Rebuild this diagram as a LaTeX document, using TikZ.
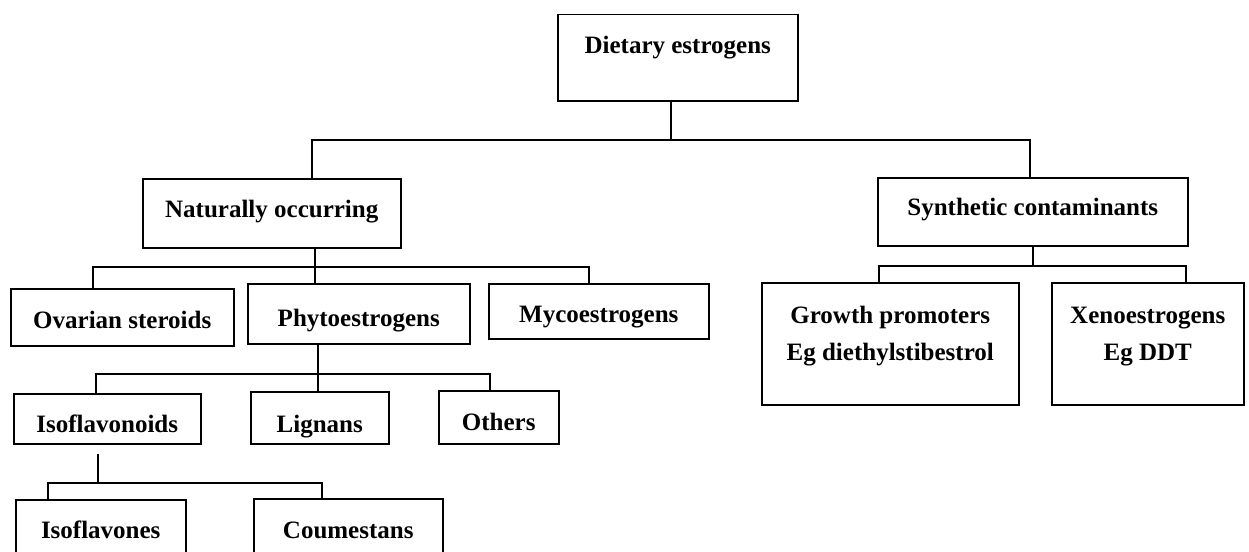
\documentclass[tikz,border=0pt]{standalone}
\usepackage{fontspec}
\setmainfont{Liberation Serif}
\usetikzlibrary{calc}

\begin{document}
\begin{tikzpicture}[x=1pt, y=-1pt, line width=1.5pt,
  box/.style n args={4}{draw, anchor=north west, inner sep=0pt, align=center,
    font=\fontsize{25}{30}\selectfont\bfseries,
    minimum width=#1, minimum height=#2, text height=#3, text depth=#4}]

\path[use as bounding box, clip] (0,0) rectangle (1249,551);

% top
\node[box={240pt}{86pt}{17pt}{25pt}] (diet) at (557,14) {Dietary estrogens};
\node[box={258pt}{69pt}{17pt}{8pt}] (nat) at (142,178) {Naturally occurring};
\node[box={310pt}{68pt}{17pt}{9pt}] (syn) at (877,177) {Synthetic contaminants};
\coordinate (c1) at (671,140);
\draw (diet.south -| c1) -- (c1);
\draw (nat.north -| 312,0) |- (c1) -| (syn.north -| 1030,0);

% naturally occurring
\node[box={223pt}{57pt}{23pt}{0pt}] (ova) at (10,288) {Ovarian steroids};
\node[box={222pt}{60pt}{26pt}{0pt}] (phy) at (247,283) {Phytoestrogens};
\node[box={220pt}{55pt}{23pt}{0pt}] (myc) at (488,283) {Mycoestrogens};
\coordinate (c2) at (315,267);
\draw (nat.south -| c2) -- (phy.north -| c2);
\draw (ova.north -| 93,0) |- (c2) -| (myc.north -| 589,0);

% phytoestrogens
\node[box={187pt}{50pt}{28pt}{0pt}] (iso) at (13,393) {Isoflavonoids};
\node[box={138pt}{52pt}{30pt}{0pt}] (lig) at (250,391) {Lignans};
\node[box={120pt}{53pt}{27pt}{0pt}] (oth) at (438,390) {Others};
\coordinate (c3) at (318,374);
\draw (phy.south -| c3) -- (lig.north -| c3);
\draw (iso.north -| 96,0) |- (c3) -| (oth.north -| 490,0);

% isoflavonoids
\node[box={170pt}{70pt}{8pt}{0pt}] (isv) at (15,499) {Isoflavones};
\node[box={189pt}{70pt}{10pt}{0pt}] (cou) at (253,498) {Coumestans};
\coordinate (c4) at (98,483);
\draw ($(iso.south -| c4)+(0,9)$) -- (c4);
\draw (isv.north -| 48,0) |- (c4) -| (cou.north -| 322,0);

% synthetic contaminants
\node[box={257pt}{122pt}{54pt}{20pt}] (gro) at (761,282) {Growth promoters\\[7pt]Eg diethylstibestrol};
\node[box={192pt}{122pt}{54pt}{20pt}] (xen) at (1051,282) {Xenoestrogens\\[7pt]Eg DDT};
\coordinate (c5) at (1033,266);
\draw (syn.south -| c5) -- (c5);
\draw (gro.north -| 879,0) |- (c5) -| (xen.north -| 1186,0);

\end{tikzpicture}
\end{document}
